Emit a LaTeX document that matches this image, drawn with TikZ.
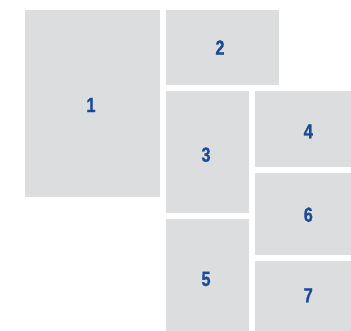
\documentclass[tikz,border=0pt]{standalone}
\usepackage{fontspec}
\setmainfont{Liberation Sans}
\newfontfamily\numfont[FakeBold=1.2]{Liberation Sans Bold}
\definecolor{boxgray}{HTML}{DCDDDF}
\definecolor{numblue}{HTML}{1A4C96}
\begin{document}
\begin{tikzpicture}[x=1bp,y=-1bp,
  panel/.style={fill=boxgray},
  num/.style={text=numblue,font=\numfont\fontsize{20.5}{20.5}\selectfont,inner sep=0pt}]
\useasboundingbox (0,0) rectangle (351,331);
\fill[panel] (25,10) rectangle (160,196.7);
\fill[panel] (165.7,10) rectangle (278.7,84.7);
\fill[panel] (165.7,91) rectangle (248.7,212.7);
\fill[panel] (254.7,91) rectangle (351,166.7);
\fill[panel] (254.7,172.7) rectangle (351,254.7);
\fill[panel] (165.7,219) rectangle (248.7,331);
\fill[panel] (254.7,260.7) rectangle (351,331);
\node[num] (n1) at (91,105) {\scalebox{0.8}[1]{1}};
\node[num] (n2) at (220,47.5) {\scalebox{0.8}[1]{2}};
\node[num] (n3) at (206,154.7) {\scalebox{0.8}[1]{3}};
\node[num] (n4) at (308.3,131.3) {\scalebox{0.8}[1]{4}};
\node[num] (n5) at (206,279) {\scalebox{0.8}[1]{5}};
\node[num] (n6) at (308.3,214.7) {\scalebox{0.8}[1]{6}};
\node[num] (n7) at (308.3,295.3) {\scalebox{0.8}[1]{7}};
\end{tikzpicture}
\end{document}
